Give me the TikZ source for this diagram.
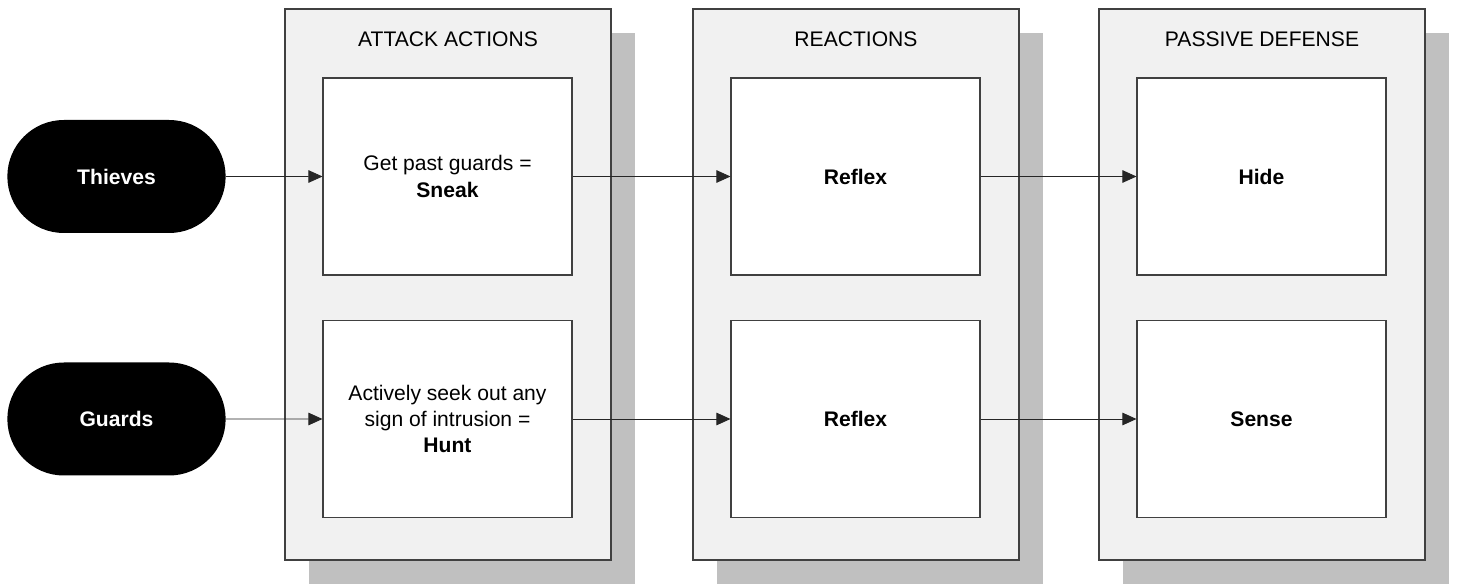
\documentclass[tikz,border=0pt]{standalone}
\usepackage{fontspec}
\setmainfont{Liberation Sans}
\usepackage{tikz}
\usetikzlibrary{arrows.meta, shapes.misc, shadows}

\definecolor{panelgray}{HTML}{F1F1F1}
\definecolor{shadowgray}{HTML}{C0C0C0}

\tikzset{
  panel/.style={draw=black!75, line width=0.6pt, fill=panelgray,
    minimum width=6.52cm, minimum height=11.02cm,
    drop shadow={shadow xshift=0.48cm, shadow yshift=-0.48cm, fill=shadowgray, opacity=1}},
  actbox/.style={draw=black!75, line width=0.6pt, fill=white,
    minimum width=4.98cm, minimum height=3.94cm, align=center,
    font=\fontsize{12}{15}\selectfont},
  party/.style={rounded rectangle, fill=black, text=white,
    minimum width=4.6cm, minimum height=2.26cm,
    font=\fontsize{12}{15}\selectfont\bfseries},
  paneltitle/.style={font=\fontsize{12}{15}\selectfont},
  flow/.style={-{Triangle[length=0.28cm, width=0.25cm]}, draw=black!85, line width=0.5pt}
}

\begin{document}
\begin{tikzpicture}
  \useasboundingbox (0,0) rectangle (29.14,-11.7);

  % columns
  \node[panel] (attack) at (8.96,-5.69) {};
  \node[panel] (react) at (17.12,-5.69) {};
  \node[panel] (passive) at (25.24,-5.69) {};
  \node[paneltitle] (attacktitle) at (8.96,-0.78) {ATTACK ACTIONS};
  \node[paneltitle] (reacttitle) at (17.12,-0.78) {REACTIONS};
  \node[paneltitle] (passivetitle) at (25.24,-0.78) {PASSIVE DEFENSE};

  % who acts
  \node[party] (thieves) at (2.33,-3.53) {Thieves};
  \node[party] (guards) at (2.33,-8.38) {Guards};

  % top row
  \node[actbox] (sneak) at (8.95,-3.53) {Get past guards =\\\textbf{Sneak}};
  \node[actbox] (reflexA) at (17.11,-3.53) {\textbf{Reflex}};
  \node[actbox] (hide) at (25.23,-3.53) {\textbf{Hide}};

  % bottom row
  \node[actbox] (hunt) at (8.95,-8.38) {Actively seek out any\\sign of intrusion =\\\textbf{Hunt}};
  \node[actbox] (reflexB) at (17.11,-8.38) {\textbf{Reflex}};
  \node[actbox] (sense) at (25.23,-8.38) {\textbf{Sense}};

  \draw[flow] (thieves) -- (sneak);
  \draw[flow] (sneak) -- (reflexA);
  \draw[flow] (reflexA) -- (hide);
  \draw[flow] (guards) -- (hunt);
  \draw[flow] (hunt) -- (reflexB);
  \draw[flow] (reflexB) -- (sense);
\end{tikzpicture}
\end{document}
